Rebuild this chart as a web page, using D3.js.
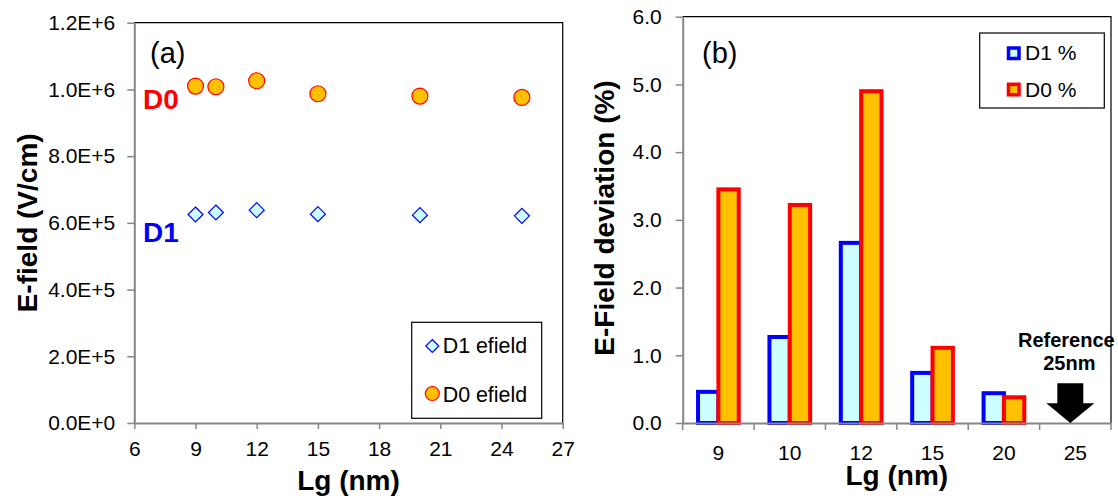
<!DOCTYPE html>
<html>
<head>
<meta charset="utf-8">
<script src="https://cdn.jsdelivr.net/npm/d3@7/dist/d3.min.js"></script>
<style>
  html, body { margin: 0; padding: 0; background: #fff; }
  svg { display: block; font-family: "Liberation Sans", Arial, sans-serif; }
</style>
</head>
<body>
<svg id="chart" width="1118" height="504"></svg>
<script>
// ---- data ----
const lgValues = [9, 10, 12, 15, 20, 25];
const d1Efield = [6.25e5, 6.31e5, 6.38e5, 6.26e5, 6.23e5, 6.21e5];
const d0Efield = [1.010e6, 1.008e6, 1.026e6, 0.987e6, 0.980e6, 0.976e6];
const leftXTicks = [6, 9, 12, 15, 18, 21, 24, 27];
const leftYTicks = [0, 2e5, 4e5, 6e5, 8e5, 1e6, 1.2e6];

const categories = ["9", "10", "12", "15", "20", "25"];
const d1Pct = [0.46, 1.27, 2.66, 0.74, 0.44, 0];
const d0Pct = [3.45, 3.22, 4.90, 1.11, 0.38, 0];
const rightYTicks = [0, 1, 2, 3, 4, 5, 6];

// ---- styles ----
const AXIS = "#868686";
const D0_FILL = "#FFC000", D0_STROKE = "#FF0000";
const D1_FILL = "#CCFFFF", D1_STROKE = "#0000FF";

const svg = d3.select("#chart");
svg.append("rect").attr("width", 1118).attr("height", 504).attr("fill", "#fff");

function sciFmt(v) {
  if (v === 0) return "0.0E+0";
  const e = Math.floor(Math.log10(v) + 1e-9);
  const m = v / Math.pow(10, e);
  return m.toFixed(1) + "E+" + e;
}
function styleAxis(g) {
  g.selectAll("path.domain").attr("stroke", AXIS).attr("stroke-width", 2);
  g.selectAll(".tick line").attr("stroke", AXIS).attr("stroke-width", 1.5);
  g.selectAll(".tick text").attr("fill", "#000").attr("font-size", 21)
    .attr("font-family", "Liberation Sans, Arial, sans-serif");
}

// ================= LEFT PANEL (a) =================
const L = { x0: 134.3, x1: 562.7, y0: 22.7, y1: 423 };
const xL = d3.scaleLinear().domain([6, 27]).range([L.x0, L.x1]);
const yL = d3.scaleLinear().domain([0, 1.2e6]).range([L.y1, L.y0]);

// frame (top & right)
svg.append("path")
  .attr("d", `M${L.x0},${L.y0}H${L.x1}V${L.y1}`)
  .attr("fill", "none").attr("stroke", "#000").attr("stroke-width", 1.2);

const gxL = svg.append("g").attr("transform", `translate(0,${L.y1})`)
  .call(d3.axisBottom(xL).tickValues(leftXTicks).tickSize(6).tickSizeOuter(0).tickPadding(12).tickFormat(d3.format("d")));
styleAxis(gxL);
const gyL = svg.append("g").attr("transform", `translate(${L.x0},0)`)
  .call(d3.axisLeft(yL).tickValues(leftYTicks).tickSize(7).tickSizeOuter(0).tickPadding(12).tickFormat(sciFmt));
styleAxis(gyL);

// D1 diamonds
const diamond = (cx, cy, h) => `M${cx},${cy - h}L${cx + h},${cy}L${cx},${cy + h}L${cx - h},${cy}Z`;
svg.append("g").selectAll("path").data(lgValues).join("path")
  .attr("d", (d, i) => diamond(xL(d), yL(d1Efield[i]), 7.5))
  .attr("fill", D1_FILL).attr("stroke", D1_STROKE).attr("stroke-width", 1.2);

// D0 circles
svg.append("g").selectAll("circle").data(lgValues).join("circle")
  .attr("cx", d => xL(d)).attr("cy", (d, i) => yL(d0Efield[i])).attr("r", 8)
  .attr("fill", D0_FILL).attr("stroke", D0_STROKE).attr("stroke-width", 1.2);

// labels
svg.append("text").attr("x", 150).attr("y", 63).attr("font-size", 29).text("(a)");
svg.append("text").attr("x", 143).attr("y", 109).attr("font-size", 28).attr("font-weight", "bold")
  .attr("fill", D0_STROKE).text("D0");
svg.append("text").attr("x", 143).attr("y", 242).attr("font-size", 28).attr("font-weight", "bold")
  .attr("fill", D1_STROKE).text("D1");

svg.append("text").attr("transform", `translate(37,${(L.y0 + L.y1) / 2}) rotate(-90)`)
  .attr("text-anchor", "middle").attr("font-size", 28).attr("font-weight", "bold")
  .text("E-field (V/cm)");
svg.append("text").attr("x", (L.x0 + L.x1) / 2).attr("y", 490)
  .attr("text-anchor", "middle").attr("font-size", 28).attr("font-weight", "bold").text("Lg (nm)");

// legend (a)
const lgA = svg.append("g");
lgA.append("rect").attr("x", 411.7).attr("y", 322.3).attr("width", 130).attr("height", 96)
  .attr("fill", "#fff").attr("stroke", "#000").attr("stroke-width", 1.2);
lgA.append("path").attr("d", diamond(432.3, 346, 6.5))
  .attr("fill", D1_FILL).attr("stroke", D1_STROKE).attr("stroke-width", 1.2);
lgA.append("text").attr("x", 442.7).attr("y", 352.7).attr("font-size", 21.4).text("D1 efield");
lgA.append("circle").attr("cx", 432.3).attr("cy", 393.5).attr("r", 7)
  .attr("fill", D0_FILL).attr("stroke", D0_STROKE).attr("stroke-width", 1.2);
lgA.append("text").attr("x", 442.7).attr("y", 401.7).attr("font-size", 21.4).text("D0 efield");

// ================= RIGHT PANEL (b) =================
const R = { x0: 682.7, x1: 1111, y0: 16.7, y1: 423 };
const xR = d3.scaleBand().domain(categories).range([R.x0, R.x1]).padding(0);
const yR = d3.scaleLinear().domain([0, 6]).range([R.y1, R.y0]);
const bw = xR.bandwidth() * 0.285;

svg.append("path")
  .attr("d", `M${R.x0},${R.y0}H${R.x1}V${R.y1}`)
  .attr("fill", "none").attr("stroke", "#000").attr("stroke-width", 1.2);

// bars
const cx = c => xR(c) + xR.bandwidth() / 2;
svg.append("g").selectAll("rect").data(categories).join("rect")
  .filter((c, i) => d1Pct[i] > 0)
  .attr("x", c => cx(c) - bw).attr("width", bw)
  .attr("y", c => yR(d1Pct[categories.indexOf(c)]))
  .attr("height", c => R.y1 - yR(d1Pct[categories.indexOf(c)]))
  .attr("fill", D1_FILL).attr("stroke", D1_STROKE).attr("stroke-width", 4);
svg.append("g").selectAll("rect").data(categories).join("rect")
  .filter((c, i) => d0Pct[i] > 0)
  .attr("x", c => cx(c)).attr("width", bw)
  .attr("y", c => yR(d0Pct[categories.indexOf(c)]))
  .attr("height", c => R.y1 - yR(d0Pct[categories.indexOf(c)]))
  .attr("fill", D0_FILL).attr("stroke", D0_STROKE).attr("stroke-width", 4);

// axes
const gxR = svg.append("g").attr("transform", `translate(0,${R.y1})`)
  .call(d3.axisBottom(xR).tickSize(0).tickSizeOuter(0).tickPadding(22));
styleAxis(gxR);
// category boundary ticks
const bounds = categories.map(c => xR(c)).concat([xR(categories[categories.length - 1]) + xR.bandwidth()]);
svg.append("g").selectAll("line").data(bounds).join("line")
  .attr("x1", d => d).attr("x2", d => d).attr("y1", R.y1).attr("y2", R.y1 + 7)
  .attr("stroke", AXIS).attr("stroke-width", 1.5);
const gyR = svg.append("g").attr("transform", `translate(${R.x0},0)`)
  .call(d3.axisLeft(yR).tickValues(rightYTicks).tickSize(7).tickSizeOuter(0).tickPadding(14).tickFormat(d3.format(".1f")));
styleAxis(gyR);

// reference arrow at 25
const ax = cx("25") - 5;
svg.append("path")
  .attr("d", `M${ax - 13},383.3H${ax + 13}V403.3H${ax + 24}L${ax},${R.y1}L${ax - 24},403.3H${ax - 13}Z`)
  .attr("fill", "#000");
svg.append("text").attr("x", ax - 4).attr("y", 347).attr("text-anchor", "middle")
  .attr("font-size", 20).attr("font-weight", "bold").text("Reference");
svg.append("text").attr("x", ax - 1).attr("y", 370).attr("text-anchor", "middle")
  .attr("font-size", 20).attr("font-weight", "bold").text("25nm");

svg.append("text").attr("x", 702).attr("y", 63).attr("font-size", 29).text("(b)");

svg.append("text").attr("transform", `translate(614,218) rotate(-90)`)
  .attr("text-anchor", "middle").attr("font-size", 28).attr("font-weight", "bold")
  .text("E-Field deviation (%)");
svg.append("text").attr("x", (R.x0 + R.x1) / 2).attr("y", 485)
  .attr("text-anchor", "middle").attr("font-size", 28).attr("font-weight", "bold").text("Lg (nm)");

// legend (b)
const lgB = svg.append("g");
lgB.append("rect").attr("x", 979.7).attr("y", 33).attr("width", 124.6).attr("height", 75)
  .attr("fill", "#fff").attr("stroke", "#000").attr("stroke-width", 1.2);
lgB.append("rect").attr("x", 1008.5).attr("y", 48).attr("width", 10.5).attr("height", 10.5)
  .attr("fill", D1_FILL).attr("stroke", D1_STROKE).attr("stroke-width", 3.5);
lgB.append("text").attr("x", 1025).attr("y", 53).attr("dy", "0.35em").attr("font-size", 21).text("D1 %");
lgB.append("rect").attr("x", 1008.5).attr("y", 84.3).attr("width", 10.5).attr("height", 10.5)
  .attr("fill", D0_FILL).attr("stroke", D0_STROKE).attr("stroke-width", 3.5);
lgB.append("text").attr("x", 1025).attr("y", 89.5).attr("dy", "0.35em").attr("font-size", 21).text("D0 %");
</script>
</body>
</html>
